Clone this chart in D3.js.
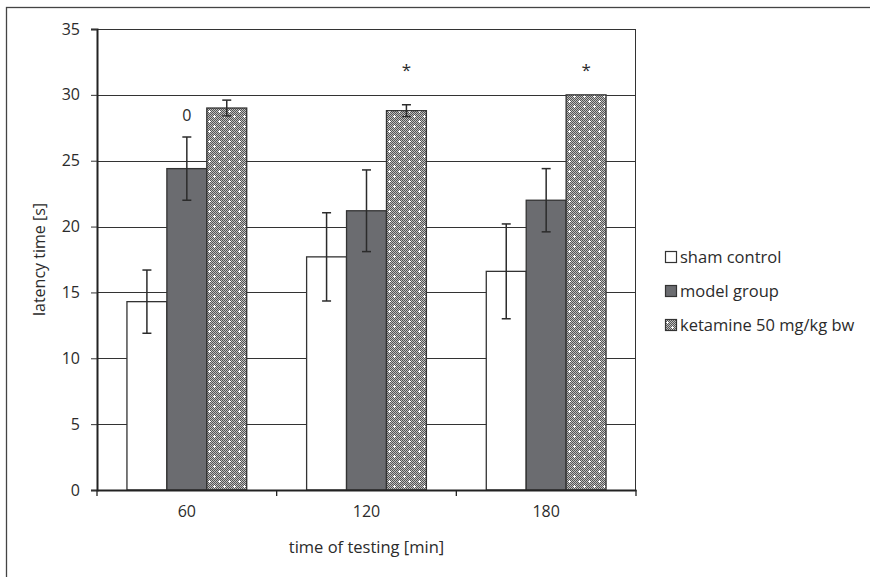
<!DOCTYPE html>
<html>
<head>
<meta charset="utf-8">
<script src="https://cdn.jsdelivr.net/npm/d3@7"></script>
<style>
  body { margin: 0; background: #fff; }
  text { font-family: "Open Sans", "Noto Sans", sans-serif; fill: #2b2b2b; }
</style>
</head>
<body>
<div id="chart"></div>
<script>
var svgWidth = 870;
var svgHeight = 577;

var margin = { top: 29, right: 234, bottom: 87, left: 97 };
var width = svgWidth - margin.left - margin.right;
var height = svgHeight - margin.top - margin.bottom;

// data
var times = ["60", "120", "180"];
var seriesNames = ["sham control", "model group", "ketamine 50 mg/kg bw"];
var shamMean = [14.3, 17.7, 16.6];
var shamErr = [2.4, 3.35, 3.6];
var modelMean = [24.4, 21.2, 22.0];
var modelErr = [2.4, 3.1, 2.4];
var ketMean = [29.0, 28.8, 30.0];
var ketErr = [0.6, 0.45, 0];
var yTicks = [0, 5, 10, 15, 20, 25, 30, 35];
// significance marks: time, series index, text, height (in s)
var marks = [
  { time: "60", s: 1, text: "0", level: 28.0 },
  { time: "120", s: 2, text: "*", level: 31.4 },
  { time: "180", s: 2, text: "*", level: 31.4 }
];

var means = [shamMean, modelMean, ketMean];
var errs = [shamErr, modelErr, ketErr];
var rows = [];
times.forEach((t, i) => {
  seriesNames.forEach((s, j) => {
    rows.push({ time: t, s: j, value: means[j][i], err: errs[j][i] });
  });
});

var svg = d3.select("#chart")
  .append("svg")
  .attr("width", svgWidth)
  .attr("height", svgHeight);

// pattern for the ketamine bars: fine grey checker with white crosses
var defs = svg.append("defs");
var pat = defs.append("pattern")
  .attr("id", "ket")
  .attr("patternUnits", "userSpaceOnUse")
  .attr("width", 10)
  .attr("height", 10);
pat.append("rect").attr("width", 10).attr("height", 10).attr("fill", "#bdbdbd");
for (var px = 0; px < 10; px++) {
  for (var py = 0; py < 10; py++) {
    if ((px + py) % 2 == 0) {
      pat.append("rect").attr("x", px).attr("y", py).attr("width", 1).attr("height", 1).attr("fill", "#555");
    }
  }
}
[[2, 2], [7, 7]].forEach(c => {
  pat.append("rect").attr("x", c[0] - 1).attr("y", c[1]).attr("width", 3).attr("height", 1).attr("fill", "#fff");
  pat.append("rect").attr("x", c[0]).attr("y", c[1] - 1).attr("width", 1).attr("height", 3).attr("fill", "#fff");
});

var fills = ["#ffffff", "#6b6c70", "url(#ket)"];

// outer frame
svg.append("rect")
  .attr("x", 6.5).attr("y", 7.5)
  .attr("width", svgWidth).attr("height", svgHeight)
  .attr("fill", "none")
  .attr("stroke", "#444")
  .attr("stroke-width", 1.3);

var chartGroup = svg.append("g")
  .attr("transform", `translate(${margin.left}, ${margin.top})`);

var x0 = d3.scaleBand().domain(times).range([0, width]);
var x1 = d3.scaleBand().domain(d3.range(seriesNames.length))
  .range([0, x0.bandwidth()])
  .paddingInner(0)
  .paddingOuter(0.75);
var y = d3.scaleLinear().domain([0, 35]).range([height, 0]);

// gridlines
chartGroup.selectAll(".grid")
  .data(yTicks.filter(d => d > 0))
  .enter()
  .append("line")
  .attr("x1", 0).attr("x2", width)
  .attr("y1", d => Math.round(y(d)) + 0.5)
  .attr("y2", d => Math.round(y(d)) + 0.5)
  .attr("stroke", "#333")
  .attr("stroke-width", 1);

// right border of plot area
chartGroup.append("line")
  .attr("x1", width - 0.5).attr("x2", width - 0.5)
  .attr("y1", 0).attr("y2", height)
  .attr("stroke", "#333");

// bars
chartGroup.selectAll(".bar")
  .data(rows)
  .enter()
  .append("rect")
  .attr("x", d => x0(d.time) + x1(d.s))
  .attr("y", d => y(d.value))
  .attr("width", x1.bandwidth())
  .attr("height", d => height - y(d.value))
  .attr("fill", d => fills[d.s])
  .attr("stroke", "#333")
  .attr("stroke-width", 1.3);

// error bars
var eb = chartGroup.selectAll(".err")
  .data(rows.filter(d => d.err > 0))
  .enter()
  .append("g")
  .attr("transform", d => `translate(${x0(d.time) + x1(d.s) + x1.bandwidth() / 2}, 0)`);
eb.append("line")
  .attr("y1", d => y(d.value + d.err)).attr("y2", d => y(d.value - d.err))
  .attr("stroke", "#2b2b2b").attr("stroke-width", 1.5);
eb.append("line")
  .attr("x1", -4.5).attr("x2", 4.5)
  .attr("y1", d => y(d.value + d.err)).attr("y2", d => y(d.value + d.err))
  .attr("stroke", "#2b2b2b").attr("stroke-width", 1.5);
eb.append("line")
  .attr("x1", -4.5).attr("x2", 4.5)
  .attr("y1", d => y(d.value - d.err)).attr("y2", d => y(d.value - d.err))
  .attr("stroke", "#2b2b2b").attr("stroke-width", 1.5);

// significance marks
chartGroup.selectAll(".mark")
  .data(marks)
  .enter()
  .append("text")
  .attr("x", d => x0(d.time) + x1(d.s) + x1.bandwidth() / 2)
  .attr("y", d => y(d.level))
  .attr("text-anchor", "middle")
  .attr("font-size", d => d.text == "*" ? "17px" : "16px")
  .text(d => d.text);

// axes
var yAxis = d3.axisLeft(y).tickValues(yTicks).tickSize(6).tickPadding(11);
var yG = chartGroup.append("g").call(yAxis);
yG.select(".domain").attr("stroke", "#222").attr("stroke-width", 2);
yG.selectAll("line").attr("stroke", "#333");
yG.selectAll("text").attr("font-size", "16px").attr("fill", "#2b2b2b")
  .attr("font-family", "'Open Sans', sans-serif");

var xAxis = d3.axisBottom(x0).tickSize(0).tickPadding(13);
var xG = chartGroup.append("g")
  .attr("transform", `translate(0, ${height})`)
  .call(xAxis);
xG.select(".domain").attr("stroke", "#222").attr("stroke-width", 2);
xG.selectAll("text").attr("font-size", "16px").attr("fill", "#2b2b2b").attr("dy", "0.9em")
  .attr("font-family", "'Open Sans', sans-serif");

// band edge ticks on the x axis
chartGroup.selectAll(".xtick")
  .data(times.map(t => x0(t)).concat([width]))
  .enter()
  .append("line")
  .attr("x1", d => d).attr("x2", d => d)
  .attr("y1", height).attr("y2", height + 6)
  .attr("stroke", "#222").attr("stroke-width", 1.3);

// axis titles
chartGroup.append("text")
  .attr("transform", "rotate(-90)")
  .attr("x", -height / 2)
  .attr("y", -margin.left + 45)
  .attr("text-anchor", "middle")
  .attr("font-size", "16px")
  .text("latency time [s]");

chartGroup.append("text")
  .attr("x", width / 2)
  .attr("y", height + 63)
  .attr("text-anchor", "middle")
  .attr("font-size", "16.5px")
  .text("time of testing [min]");

// legend
var legend = svg.append("g")
  .attr("transform", "translate(665, 252)");
var li = legend.selectAll("g")
  .data(seriesNames)
  .enter()
  .append("g")
  .attr("transform", (d, i) => `translate(0, ${i * 34})`);
li.append("rect")
  .attr("x", 0.5).attr("y", -0.5)
  .attr("width", 11).attr("height", 11)
  .attr("fill", (d, i) => fills[i])
  .attr("stroke", "#333")
  .attr("stroke-width", 1.2);
li.append("text")
  .attr("x", 15)
  .attr("y", 11)
  .attr("font-size", "16.5px")
  .text(d => d);
</script>
</body>
</html>
